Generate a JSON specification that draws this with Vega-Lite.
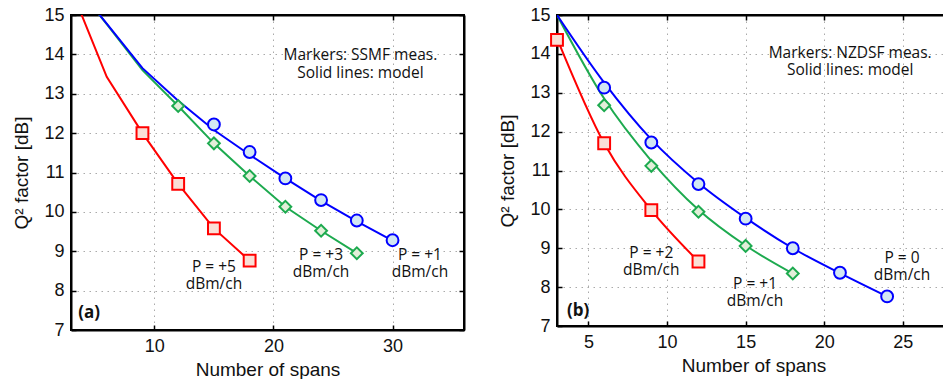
{
  "$schema": "https://vega.github.io/schema/vega-lite/v6.json",
  "padding": {"left": 11, "top": 5, "right": 0, "bottom": 0},
  "spacing": 31,
  "resolve": {"scale": {"color": "independent", "stroke": "independent", "fill": "independent", "shape": "independent"}},
  "datasets": {
    "model_a": [
      {"series": "P = +5", "spans": 3, "q": 15.67},
      {"series": "P = +5", "spans": 6, "q": 13.43},
      {"series": "P = +5", "spans": 9, "q": 12.0},
      {"series": "P = +5", "spans": 12, "q": 10.71},
      {"series": "P = +5", "spans": 15, "q": 9.58},
      {"series": "P = +5", "spans": 18, "q": 8.76},
      {"series": "P = +3", "spans": 3, "q": 15.9},
      {"series": "P = +3", "spans": 6, "q": 14.77},
      {"series": "P = +3", "spans": 9, "q": 13.6},
      {"series": "P = +3", "spans": 12, "q": 12.69},
      {"series": "P = +3", "spans": 15, "q": 11.74},
      {"series": "P = +3", "spans": 18, "q": 10.91},
      {"series": "P = +3", "spans": 21, "q": 10.13},
      {"series": "P = +3", "spans": 24, "q": 9.52},
      {"series": "P = +3", "spans": 27, "q": 8.95},
      {"series": "P = +1", "spans": 3, "q": 15.9},
      {"series": "P = +1", "spans": 6, "q": 14.78},
      {"series": "P = +1", "spans": 9, "q": 13.65},
      {"series": "P = +1", "spans": 12, "q": 12.82},
      {"series": "P = +1", "spans": 15, "q": 12.08},
      {"series": "P = +1", "spans": 18, "q": 11.45},
      {"series": "P = +1", "spans": 21, "q": 10.85},
      {"series": "P = +1", "spans": 24, "q": 10.28},
      {"series": "P = +1", "spans": 27, "q": 9.76},
      {"series": "P = +1", "spans": 30, "q": 9.27}
    ],
    "meas_a": [
      {"series": "P = +5", "spans": 9, "q": 12.0},
      {"series": "P = +5", "spans": 12, "q": 10.71},
      {"series": "P = +5", "spans": 15, "q": 9.58},
      {"series": "P = +5", "spans": 18, "q": 8.76},
      {"series": "P = +3", "spans": 12, "q": 12.69},
      {"series": "P = +3", "spans": 15, "q": 11.74},
      {"series": "P = +3", "spans": 18, "q": 10.91},
      {"series": "P = +3", "spans": 21, "q": 10.13},
      {"series": "P = +3", "spans": 24, "q": 9.52},
      {"series": "P = +3", "spans": 27, "q": 8.95},
      {"series": "P = +1", "spans": 15, "q": 12.22},
      {"series": "P = +1", "spans": 18, "q": 11.52},
      {"series": "P = +1", "spans": 21, "q": 10.85},
      {"series": "P = +1", "spans": 24, "q": 10.3},
      {"series": "P = +1", "spans": 27, "q": 9.78},
      {"series": "P = +1", "spans": 30, "q": 9.28}
    ],
    "notes_a": [
      {"spans": 27.3, "q": 13.98, "text": "Markers: SSMF meas.\nSolid lines: model"},
      {"spans": 15.0, "q": 8.61, "text": "P = +5\ndBm/ch"},
      {"spans": 24.0, "q": 8.91, "text": "P = +3\ndBm/ch"},
      {"spans": 32.3, "q": 8.91, "text": "P = +1\ndBm/ch"}
    ],
    "tag_a": [{"spans": 3.6, "q": 7.43, "text": "(a)"}],
    "model_b": [
      {"series": "P = +2", "spans": 3, "q": 14.4},
      {"series": "P = +2", "spans": 6, "q": 11.7},
      {"series": "P = +2", "spans": 9, "q": 9.98},
      {"series": "P = +2", "spans": 12, "q": 8.66},
      {"series": "P = +1", "spans": 3, "q": 15.0},
      {"series": "P = +1", "spans": 6, "q": 12.85},
      {"series": "P = +1", "spans": 9, "q": 11.25},
      {"series": "P = +1", "spans": 12, "q": 9.99},
      {"series": "P = +1", "spans": 15, "q": 9.07},
      {"series": "P = +1", "spans": 18, "q": 8.35},
      {"series": "P = 0", "spans": 3, "q": 15.0},
      {"series": "P = 0", "spans": 6, "q": 13.26},
      {"series": "P = 0", "spans": 9, "q": 11.8},
      {"series": "P = 0", "spans": 12, "q": 10.68},
      {"series": "P = 0", "spans": 15, "q": 9.78},
      {"series": "P = 0", "spans": 18, "q": 9.0},
      {"series": "P = 0", "spans": 21, "q": 8.36},
      {"series": "P = 0", "spans": 24, "q": 7.76}
    ],
    "meas_b": [
      {"series": "P = +2", "spans": 3, "q": 14.36},
      {"series": "P = +2", "spans": 6, "q": 11.7},
      {"series": "P = +2", "spans": 9, "q": 9.98},
      {"series": "P = +2", "spans": 12, "q": 8.66},
      {"series": "P = +1", "spans": 6, "q": 12.68},
      {"series": "P = +1", "spans": 9, "q": 11.12},
      {"series": "P = +1", "spans": 12, "q": 9.94},
      {"series": "P = +1", "spans": 15, "q": 9.06},
      {"series": "P = +1", "spans": 18, "q": 8.35},
      {"series": "P = 0", "spans": 6, "q": 13.13},
      {"series": "P = 0", "spans": 9, "q": 11.72},
      {"series": "P = 0", "spans": 12, "q": 10.65},
      {"series": "P = 0", "spans": 15, "q": 9.76},
      {"series": "P = 0", "spans": 18, "q": 9.0},
      {"series": "P = 0", "spans": 21, "q": 8.37},
      {"series": "P = 0", "spans": 24, "q": 7.76}
    ],
    "notes_b": [
      {"spans": 21.65, "q": 14.03, "text": "Markers: NZDSF meas.\nSolid lines: model"},
      {"spans": 9.0, "q": 8.89, "text": "P = +2\ndBm/ch"},
      {"spans": 15.6, "q": 8.09, "text": "P = +1\ndBm/ch"},
      {"spans": 24.95, "q": 8.76, "text": "P = 0\ndBm/ch"}
    ],
    "tag_b": [{"spans": 3.64, "q": 7.39, "text": "(b)"}]
  },
  "hconcat": [
    {
      "width": 393,
      "height": 315,
      "resolve": {"axis": {"x": "independent", "y": "independent"}},
      "layer": [
        {
          "data": {"name": "model_a"},
          "mark": {"type": "line", "clip": true, "strokeWidth": 2},
          "encoding": {
            "x": {"field": "spans", "type": "quantitative", "scale": {"domain": [3, 36], "nice": false, "zero": false},
                  "axis": {"orient": "bottom", "values": [10, 20, 30], "title": "Number of spans", "grid": true, "labelDx": 4, "labelPadding": 12, "titlePadding": 5}},
            "y": {"field": "q", "type": "quantitative", "scale": {"domain": [7, 15], "nice": false, "zero": false},
                  "axis": {"orient": "left", "values": [7, 8, 9, 10, 11, 12, 13, 14, 15], "title": "Q² factor [dB]", "grid": true, "labelPadding": 12, "titlePadding": 12}},
            "stroke": {"field": "series", "type": "nominal", "scale": {"domain": ["P = +5", "P = +3", "P = +1"], "range": ["#ff0000", "#1daa4f", "#0000ff"]}, "legend": null}
          }
        },
        {
          "data": {"name": "meas_a"},
          "mark": {"type": "point", "size": 140, "strokeWidth": 2, "opacity": 1, "fillOpacity": 1},
          "encoding": {
            "x": {"field": "spans", "type": "quantitative", "axis": {"orient": "top", "values": [10, 20, 30], "labels": false, "title": null, "grid": false}},
            "y": {"field": "q", "type": "quantitative", "axis": {"orient": "right", "values": [7, 8, 9, 10, 11, 12, 13, 14, 15], "labels": false, "title": null, "grid": false}},
            "shape": {"field": "series", "type": "nominal", "scale": {"domain": ["P = +5", "P = +3", "P = +1"], "range": ["square", "diamond", "circle"]}, "legend": null},
            "stroke": {"field": "series", "type": "nominal", "legend": null},
            "fill": {"field": "series", "type": "nominal", "scale": {"domain": ["P = +5", "P = +3", "P = +1"], "range": ["#fadfd6", "#e2efd9", "#d2e7f3"]}, "legend": null}
          }
        },
        {
          "data": {"name": "notes_a"},
          "mark": {"type": "text", "font": "Open Sans", "fontSize": 15.5, "color": "#111111", "align": "center", "baseline": "middle", "lineBreak": "\n", "lineHeight": 17.5},
          "encoding": {
            "x": {"field": "spans", "type": "quantitative", "axis": null},
            "y": {"field": "q", "type": "quantitative", "axis": null},
            "text": {"field": "text", "type": "nominal"}
          }
        },
        {
          "data": {"name": "tag_a"},
          "mark": {"type": "text", "font": "Open Sans", "fontSize": 17, "fontWeight": "bold", "color": "#111111", "align": "left", "baseline": "middle"},
          "encoding": {
            "x": {"field": "spans", "type": "quantitative", "axis": null},
            "y": {"field": "q", "type": "quantitative", "axis": null},
            "text": {"field": "text", "type": "nominal"}
          }
        }
      ]
    },
    {
      "width": 393,
      "height": 311,
      "resolve": {"axis": {"x": "independent", "y": "independent"}},
      "layer": [
        {
          "data": {"name": "model_b"},
          "mark": {"type": "line", "clip": true, "strokeWidth": 2, "interpolate": "monotone"},
          "encoding": {
            "x": {"field": "spans", "type": "quantitative", "scale": {"domain": [3, 28], "nice": false, "zero": false},
                  "axis": {"orient": "bottom", "values": [5, 10, 15, 20, 25], "title": "Number of spans", "grid": true, "labelDx": 4, "labelPadding": 12, "titlePadding": 5}},
            "y": {"field": "q", "type": "quantitative", "scale": {"domain": [7, 15], "nice": false, "zero": false},
                  "axis": {"orient": "left", "values": [7, 8, 9, 10, 11, 12, 13, 14, 15], "title": "Q² factor [dB]", "grid": true, "labelPadding": 12, "titlePadding": 12}},
            "stroke": {"field": "series", "type": "nominal", "scale": {"domain": ["P = +2", "P = +1", "P = 0"], "range": ["#ff0000", "#1daa4f", "#0000ff"]}, "legend": null}
          }
        },
        {
          "data": {"name": "meas_b"},
          "mark": {"type": "point", "size": 140, "strokeWidth": 2, "opacity": 1, "fillOpacity": 1},
          "encoding": {
            "x": {"field": "spans", "type": "quantitative", "axis": {"orient": "top", "values": [5, 10, 15, 20, 25], "labels": false, "title": null, "grid": false}},
            "y": {"field": "q", "type": "quantitative", "axis": {"orient": "right", "values": [7, 8, 9, 10, 11, 12, 13, 14, 15], "labels": false, "title": null, "grid": false}},
            "shape": {"field": "series", "type": "nominal", "scale": {"domain": ["P = +2", "P = +1", "P = 0"], "range": ["square", "diamond", "circle"]}, "legend": null},
            "stroke": {"field": "series", "type": "nominal", "legend": null},
            "fill": {"field": "series", "type": "nominal", "scale": {"domain": ["P = +2", "P = +1", "P = 0"], "range": ["#fadfd6", "#e2efd9", "#d2e7f3"]}, "legend": null}
          }
        },
        {
          "data": {"name": "notes_b"},
          "mark": {"type": "text", "font": "Open Sans", "fontSize": 15.5, "color": "#111111", "align": "center", "baseline": "middle", "lineBreak": "\n", "lineHeight": 17.5},
          "encoding": {
            "x": {"field": "spans", "type": "quantitative", "axis": null},
            "y": {"field": "q", "type": "quantitative", "axis": null},
            "text": {"field": "text", "type": "nominal"}
          }
        },
        {
          "data": {"name": "tag_b"},
          "mark": {"type": "text", "font": "Open Sans", "fontSize": 17, "fontWeight": "bold", "color": "#111111", "align": "left", "baseline": "middle"},
          "encoding": {
            "x": {"field": "spans", "type": "quantitative", "axis": null},
            "y": {"field": "q", "type": "quantitative", "axis": null},
            "text": {"field": "text", "type": "nominal"}
          }
        }
      ]
    }
  ],
  "config": {
    "view": {"stroke": "#000000", "strokeWidth": 2},
    "axis": {
      "labelFont": "Liberation Sans", "labelFontSize": 18, "labelColor": "#111111",
      "titleFont": "Liberation Sans", "titleFontSize": 19, "titleFontWeight": "normal", "titleColor": "#111111",
      "domainColor": "#000000", "domainWidth": 2,
      "tickColor": "#000000", "tickWidth": 1.5, "tickSize": -5,
      "gridColor": "#aaaaaa", "gridDash": [1.5, 4.5], "gridWidth": 1
    }
  }
}
